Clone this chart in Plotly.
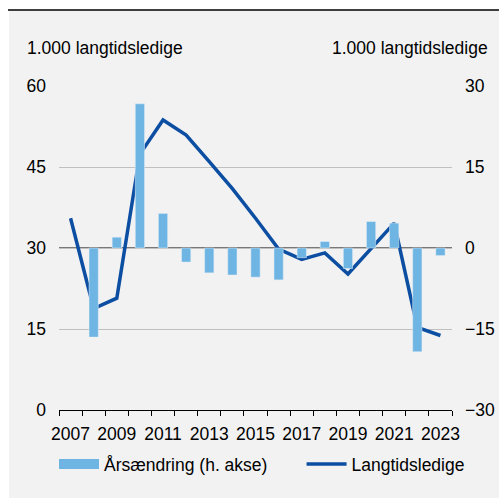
import plotly.graph_objects as go

years = list(range(2007, 2024))
langtidsledige = [35.5, 18.8, 20.7, 47.4, 53.7, 50.9, 46.0, 41.0, 35.5, 29.8, 27.9, 29.1, 25.2, 30.0, 34.6, 15.3, 13.8]
aarsaendring = [None, -16.5, 2.0, 26.7, 6.4, -2.6, -4.6, -5.0, -5.4, -5.9, -1.8, 1.2, -3.8, 4.9, 4.6, -19.2, -1.4]
left_ticks = [0, 15, 30, 45, 60]
right_ticks = [-30, -15, 0, 15, 30]
x_labels = [2007, 2009, 2011, 2013, 2015, 2017, 2019, 2021, 2023]

BAR = "#6eb5e3"
LINE = "#0b4ea2"
FONT = "Liberation Sans"
FS = 17.5

W, H = 499, 498
L, R, T, B = 59, 47, 86, 88
pw, ph = W - L - R, H - T - B

def px(x):
    return (x - L) / pw

def py(y):
    return (H - B - y) / ph

fig = go.Figure()
fig.add_trace(go.Bar(x=years, y=aarsaendring, yaxis="y2", marker_color=BAR,
                     width=0.4, showlegend=False, name="Årsændring (h. akse)"))
fig.add_trace(go.Scatter(x=[None], y=[None], mode="lines", yaxis="y2",
                         line=dict(color=BAR, width=11),
                         name="Årsændring (h. akse)" + "\u00a0" * 6))
fig.add_trace(go.Scatter(x=years, y=langtidsledige, mode="lines",
                         line=dict(color=LINE, width=3.5), name="Langtidsledige"))

fig.update_layout(
    width=W, height=H,
    margin=dict(l=L, r=R, t=T, b=B, autoexpand=False),
    paper_bgcolor="white",
    plot_bgcolor="rgba(0,0,0,0)",
    font=dict(family=FONT, size=FS, color="black"),
    xaxis=dict(range=[2006.5, 2023.5], tickvals=x_labels, ticks="", showgrid=False,
               showline=True, linecolor="black", linewidth=1,
               minor=dict(tick0=2006.5, dtick=1, ticks="outside", ticklen=5,
                          tickcolor="black", tickwidth=1, showgrid=False),
               ticklabelstandoff=8, zeroline=False, automargin=False),
    yaxis=dict(range=[0, 60], tickvals=left_ticks, showgrid=True, gridcolor="#c0c0c0",
               gridwidth=1, zeroline=False, ticks="", ticklabelstandoff=12, automargin=False),
    yaxis2=dict(range=[-30, 30], tickvals=right_ticks, overlaying="y", side="right",
                showgrid=False, zeroline=False, ticks="", ticklabelstandoff=12, automargin=False),
    legend=dict(orientation="h", x=px(54), y=py(464), xanchor="left", yanchor="middle",
                itemwidth=40, bgcolor="rgba(0,0,0,0)", font=dict(size=FS)),
    shapes=[
        dict(type="rect", xref="paper", yref="paper", x0=px(9), x1=px(505),
             y0=py(10), y1=py(505), fillcolor="#f2f2f2", line=dict(width=0), layer="below"),
        dict(type="line", xref="paper", yref="paper", x0=px(8), x1=px(505),
             y0=py(10), y1=py(10), line=dict(color="black", width=1.5)),
        dict(type="line", xref="paper", yref="y", x0=0, x1=1, y0=30, y1=30,
             line=dict(color="black", width=1), layer="below"),
    ],
    annotations=[
        dict(text="1.000 langtidsledige", xref="paper", yref="paper", x=px(25), y=py(48),
             xanchor="left", yanchor="middle", showarrow=False),
        dict(text="1.000 langtidsledige", xref="paper", yref="paper", x=px(490), y=py(48),
             xanchor="right", yanchor="middle", showarrow=False),
    ],
)

fig.write_html("out.html", config={"displayModeBar": False},
               post_script="document.body.style.margin='0';document.body.style.padding='0';")
